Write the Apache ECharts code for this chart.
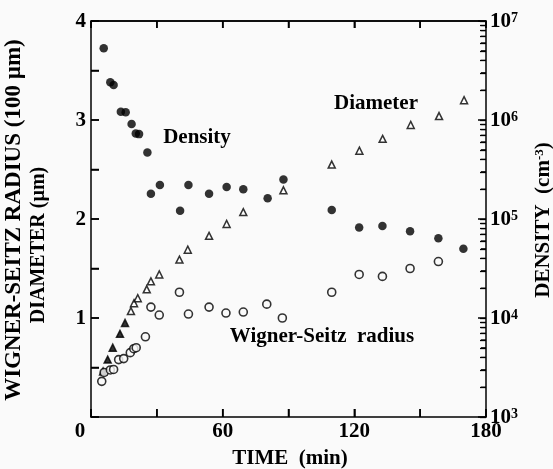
<!DOCTYPE html>
<html>
<head>
<meta charset="utf-8">
<script src="https://cdn.jsdelivr.net/npm/echarts@6/dist/echarts.min.js"></script>
<style>
  html, body { margin: 0; padding: 0; background: #fafafa; }
  #chart { width: 553px; height: 469px; }
</style>
</head>
<body>
<div id="chart"></div>
<script>
// Tick labels
const timeLabels = [0, 60, 120, 180];
const leftLabels = [1, 2, 3, 4];
const densityExponents = [3, 4, 5, 6, 7];

// Particle density (cm^-3) vs time (min)
const densityTime = [5.8, 8.8, 10.3, 13.6, 15.8, 18.5, 20.4, 21.9, 25.7, 27.3, 31.4, 40.6, 44.4, 53.8, 61.8, 69.4, 80.5, 87.7, 109.7, 122.2, 132.8, 145.4, 158.3, 169.7];
const densityValue = [5.3e6, 2.4e6, 2.26e6, 1.21e6, 1.2e6, 9.1e5, 7.3e5, 7.2e5, 4.7e5, 1.8e5, 2.2e5, 1.21e5, 2.2e5, 1.8e5, 2.1e5, 2.0e5, 1.62e5, 2.5e5, 1.23e5, 8.2e4, 8.5e4, 7.5e4, 6.4e4, 5.0e4];

// Particle diameter (um) vs time (min)
const diameterTime = [5.5, 7.6, 9.9, 13.2, 15.5, 18.2, 19.6, 21.3, 25.4, 27.3, 31.1, 40.3, 44.1, 53.8, 61.8, 69.4, 87.7, 109.7, 122.3, 132.9, 145.7, 158.6, 170];
const diameterValue = [0.46, 0.58, 0.70, 0.84, 0.95, 1.07, 1.15, 1.20, 1.29, 1.37, 1.44, 1.59, 1.69, 1.83, 1.95, 2.07, 2.29, 2.55, 2.69, 2.81, 2.95, 3.04, 3.20];

// Wigner-Seitz radius (100 um) vs time (min)
const radiusTime = [4.9, 6.0, 8.8, 10.3, 12.6, 14.9, 17.9, 19.5, 20.6, 24.8, 27.3, 31.1, 40.3, 44.4, 53.8, 61.5, 69.4, 80.1, 87.2, 109.7, 122.2, 132.8, 145.4, 158.3];
const radiusValue = [0.36, 0.45, 0.475, 0.48, 0.58, 0.59, 0.65, 0.69, 0.70, 0.81, 1.11, 1.03, 1.26, 1.04, 1.11, 1.05, 1.06, 1.14, 1.00, 1.26, 1.44, 1.42, 1.50, 1.57];

const FONT = '"Liberation Serif", "DejaVu Serif", serif';
const pairs = (xs, ys) => xs.map((x, i) => [x, ys[i]]);

// decade ticks plus 2..9 minor ticks on the log axis
const logTicks = [];
for (let e = 3; e <= 7; e++) {
  for (let m = 1; m <= 9; m++) {
    const v = m * Math.pow(10, e);
    if (v <= 1e7) logTicks.push(v);
  }
}
// tick positions on the linear axes
const timeTicks = [];
for (let t = 0; t <= 180; t += 30) timeTicks.push(t);
const leftTicks = [];
for (let y = 0; y <= 4; y += 0.5) leftTicks.push(y);

const stroke = (w) => ({ color: '#000', width: w || 1.5 });

const chart = echarts.init(document.getElementById('chart'));
chart.setOption({
  backgroundColor: '#fafafa',
  animation: false,
  grid: { left: 91, right: 67, top: 21, bottom: 52 },
  xAxis: [
    {
      type: 'value', position: 'bottom', min: 0, max: 180, interval: 30,
      axisLine: { show: true, onZero: false, lineStyle: stroke() },
      axisTick: { show: true, inside: true, length: 8, lineStyle: stroke() },
      splitLine: { show: false },
      axisLabel: { show: false }
    },
    {
      type: 'value', position: 'top', min: 0, max: 180, interval: 30,
      axisLine: { show: true, onZero: false, lineStyle: stroke() },
      axisTick: { show: true, inside: true, length: 7, lineStyle: stroke() },
      splitLine: { show: false },
      axisLabel: { show: false }
    }
  ],
  yAxis: [
    {
      type: 'value', position: 'left', min: 0, max: 4, interval: 0.5,
      axisLine: { show: true, onZero: false, lineStyle: stroke() },
      axisTick: { show: true, inside: true, length: 8, lineStyle: stroke() },
      splitLine: { show: false },
      axisLabel: { show: false }
    },
    {
      type: 'log', logBase: 10, position: 'right', min: 1e3, max: 1e7,
      axisLine: { show: true, onZero: false, lineStyle: stroke() },
      axisTick: { show: true, inside: true, length: 6, customValues: logTicks, lineStyle: stroke(1.3) },
      splitLine: { show: false },
      axisLabel: { show: false }
    }
  ],
  series: [
    {
      name: 'Density', type: 'scatter', xAxisIndex: 0, yAxisIndex: 1,
      symbol: 'circle', symbolSize: 8.5,
      itemStyle: { color: '#000' },
      data: pairs(densityTime, densityValue)
    },
    {
      name: 'Diameter', type: 'scatter', xAxisIndex: 0, yAxisIndex: 0,
      symbol: 'triangle', symbolSize: 7,
      itemStyle: {
        color: p => (p.dataIndex < 5 ? '#000' : '#fff'),
        borderColor: '#000', borderWidth: 1.5
      },
      data: pairs(diameterTime, diameterValue)
    },
    {
      name: 'Wigner-Seitz radius', type: 'scatter', xAxisIndex: 0, yAxisIndex: 0,
      symbol: 'circle', symbolSize: 8,
      itemStyle: { color: '#fafafa', borderColor: '#000', borderWidth: 1.6 },
      data: pairs(radiusTime, radiusValue)
    }
  ]
});

// Frame ticks and tick labels, placed from the axes' own scales
const bold = (size) => 'bold ' + size + 'px ' + FONT;
const texts = [];
const lines = [];
const line = (x1, y1, x2, y2, w) => lines.push({
  type: 'line', silent: true, z: 10,
  shape: { x1, y1, x2, y2 }, style: { stroke: '#000', lineWidth: w || 1.5 }
});
const xPix = v => chart.convertToPixel({ xAxisIndex: 0 }, v);
const yPix = v => chart.convertToPixel({ yAxisIndex: 0 }, v);
const dPix = v => chart.convertToPixel({ yAxisIndex: 1 }, v);
const yBottom = yPix(0), yTop = yPix(4);
const xLeft = xPix(0), xRight = xPix(180);

line(xLeft, yTop, xRight, yTop);
timeTicks.forEach(t => {
  line(xPix(t), yBottom, xPix(t), yBottom - 8);
  line(xPix(t), yTop, xPix(t), yTop + 7);
});
leftTicks.forEach(v => line(xLeft, yPix(v), xLeft + 8, yPix(v)));
logTicks.forEach(v => {
  const decade = Math.abs(Math.log10(v) - Math.round(Math.log10(v))) < 1e-9;
  line(xRight, dPix(v), xRight - (decade ? 8 : 5), dPix(v), decade ? 1.5 : 1.2);
});

timeLabels.forEach(v => {
  const px = xPix(v) - (v === 0 ? 11 : 0);
  texts.push({ type: 'text', x: px, y: yBottom + 4, style: { text: String(v), font: bold(21), fill: '#000', align: 'center', verticalAlign: 'top' } });
});
leftLabels.forEach(v => {
  texts.push({ type: 'text', x: xLeft - 5, y: yPix(v) + 1, style: { text: String(v), font: bold(21), fill: '#000', align: 'right', verticalAlign: 'middle' } });
});
densityExponents.forEach(e => {
  texts.push({
    type: 'text', x: xRight + 4, y: dPix(Math.pow(10, e)) + 1,
    style: {
      text: '{b|10}{s|' + e + '}', align: 'left', verticalAlign: 'middle',
      rich: {
        b: { font: bold(21), fill: '#000' },
        s: { font: bold(14), fill: '#000', verticalAlign: 'top', padding: [0, 0, 8, 0] }
      }
    }
  });
});

chart.setOption({
  graphic: lines.concat(texts, [
    { type: 'text', x: 197, y: 138, style: { text: 'Density', font: bold(21), fill: '#000', align: 'center', verticalAlign: 'middle' } },
    { type: 'text', x: 376, y: 104, style: { text: 'Diameter', font: bold(21), fill: '#000', align: 'center', verticalAlign: 'middle' } },
    { type: 'text', x: 322, y: 337, style: { text: 'Wigner-Seitz  radius', font: bold(21), fill: '#000', align: 'center', verticalAlign: 'middle' } },
    { type: 'text', x: 290, y: 459, style: { text: 'TIME  (min)', font: bold(21), fill: '#000', align: 'center', verticalAlign: 'middle' } },
    { type: 'text', x: 14, y: 220, rotation: Math.PI / 2, style: { text: 'WIGNER-SEITZ RADIUS (100 µm)', font: bold(23), fill: '#000', align: 'center', verticalAlign: 'middle' } },
    { type: 'text', x: 39, y: 245, rotation: Math.PI / 2, style: { text: 'DIAMETER (µm)', font: bold(20), fill: '#000', align: 'center', verticalAlign: 'middle' } },
    {
      type: 'text', x: 544, y: 220, rotation: Math.PI / 2,
      style: {
        text: '{a|DENSITY  (cm}{s|-3}{a|)}',
        align: 'center', verticalAlign: 'middle',
        rich: {
          a: { font: bold(21), fill: '#000' },
          s: { font: bold(13), fill: '#000', verticalAlign: 'top', padding: [0, 0, 8, 0] }
        }
      }
    }
  ])
});
</script>
</body>
</html>
